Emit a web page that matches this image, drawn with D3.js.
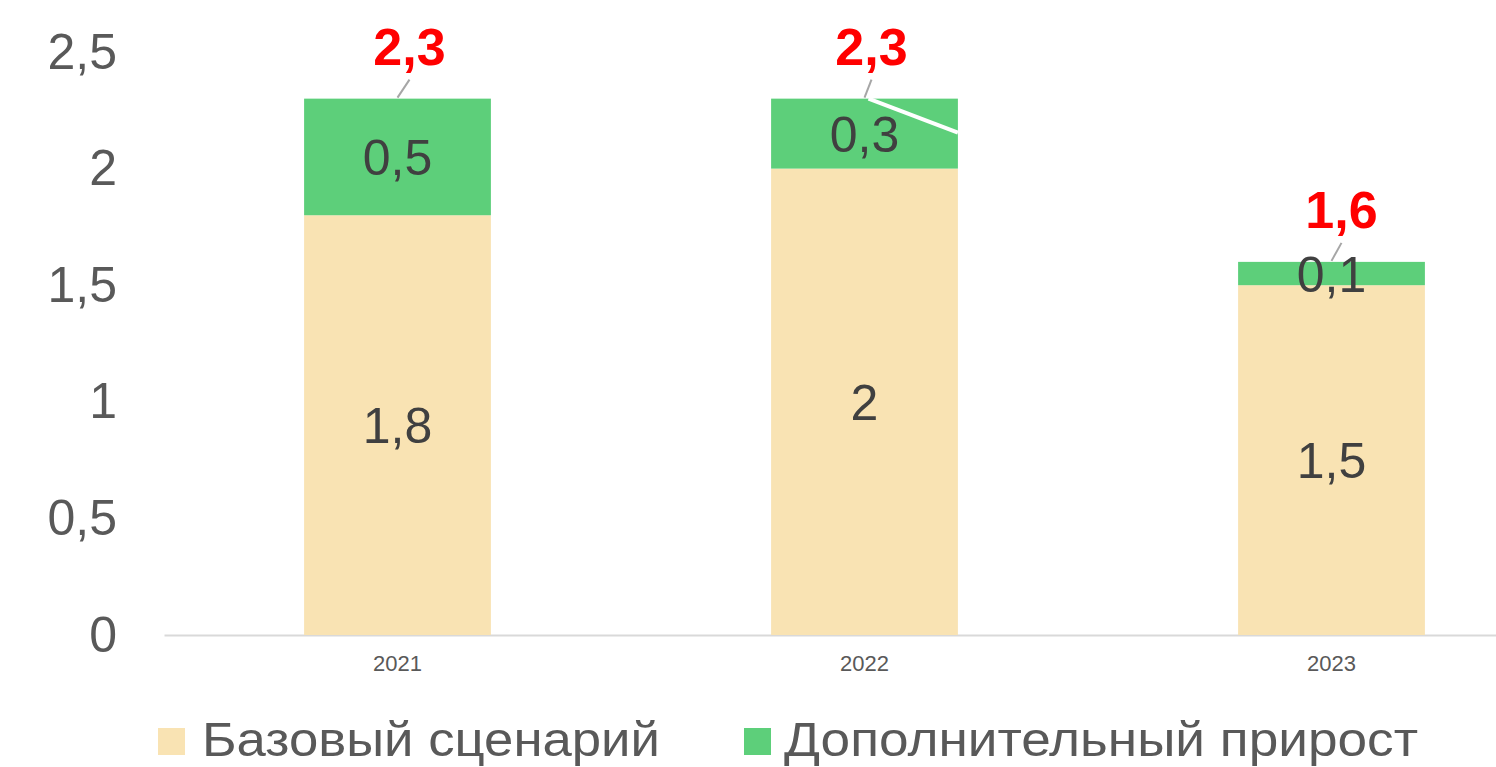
<!DOCTYPE html>
<html>
<head>
<meta charset="utf-8">
<script src="https://cdn.jsdelivr.net/npm/d3@7"></script>
<style>
  body { margin: 0; background: #fff; }
  svg { display: block; font-family: Arial, 'Liberation Sans', sans-serif; }
</style>
</head>
<body>
<div id="chart"></div>
<script>
const years = ['2021', '2022', '2023'];
const baseValues = [1.8, 2, 1.5];
const extraValues = [0.5, 0.3, 0.1];
const totalValues = [2.3, 2.3, 1.6];
const yTicks = [0, 0.5, 1, 1.5, 2, 2.5];
const seriesNames = ['Базовый сценарий', 'Дополнительный прирост'];

const width = 1496, height = 767;
const colors = { base: '#f9e3b3', extra: '#5dcf7a' };
const fmt = d => String(d).replace('.', ',');

const svg = d3.select('#chart')
  .append('svg')
  .attr('width', width)
  .attr('height', height);

// scales
const x = d3.scaleBand()
  .domain(years)
  .range([164, 1565])
  .paddingInner(0.6)
  .paddingOuter(0.3);

const y = d3.scaleLinear().domain([0, 2.5]).range([635, 52]);

// y axis, labels only
const yAxis = svg.append('g')
  .attr('transform', 'translate(117,0)')
  .call(d3.axisLeft(y).tickValues(yTicks).tickSize(0).tickPadding(0).tickFormat(fmt));
yAxis.select('.domain').remove();
yAxis.selectAll('text')
  .attr('font-size', 50)
  .attr('font-family', "Arial, 'Liberation Sans', sans-serif")
  .attr('fill', '#595959');

// x axis
const xAxis = svg.append('g')
  .attr('transform', 'translate(0,' + y(0) + ')')
  .call(d3.axisBottom(x).tickSize(0).tickPadding(20));
xAxis.select('.domain').attr('stroke', '#d9d9d9').attr('stroke-width', 2);
xAxis.selectAll('text')
  .attr('font-size', 22)
  .attr('font-family', "Arial, 'Liberation Sans', sans-serif")
  .attr('fill', '#595959');

const data = years.map((yr, i) => ({
  year: yr, base: baseValues[i], extra: extraValues[i], total: totalValues[i]
}));

const bars = svg.append('g');

// base segment
bars.selectAll('rect.base')
  .data(data)
  .enter()
  .append('rect')
  .attr('class', 'base')
  .attr('x', d => x(d.year))
  .attr('width', x.bandwidth())
  .attr('y', d => y(d.base))
  .attr('height', d => y(0) - y(d.base))
  .attr('fill', colors.base);

// extra segment
bars.selectAll('rect.extra')
  .data(data)
  .enter()
  .append('rect')
  .attr('class', 'extra')
  .attr('x', d => x(d.year))
  .attr('width', x.bandwidth())
  .attr('y', d => y(d.base + d.extra))
  .attr('height', d => y(d.base) - y(d.base + d.extra))
  .attr('fill', colors.extra);

// stray white leader line on 2022
bars.append('line')
  .attr('x1', x('2022') + x.bandwidth() / 2 + 4)
  .attr('y1', y(totalValues[1]))
  .attr('x2', x('2022') + x.bandwidth())
  .attr('y2', y(totalValues[1]) + 34)
  .attr('stroke', '#fff')
  .attr('stroke-width', 4);

// segment labels
const inner = svg.append('g')
  .attr('font-size', 50)
  .attr('fill', '#404040')
  .attr('text-anchor', 'middle');

inner.selectAll('text.base')
  .data(data)
  .enter()
  .append('text')
  .attr('x', d => x(d.year) + x.bandwidth() / 2)
  .attr('y', d => (y(0) + y(d.base)) / 2)
  .attr('dy', '0.36em')
  .text(d => fmt(d.base));

inner.selectAll('text.extra')
  .data(data)
  .enter()
  .append('text')
  .attr('x', d => x(d.year) + x.bandwidth() / 2)
  .attr('y', d => (y(d.base) + y(d.base + d.extra)) / 2)
  .attr('dy', '0.36em')
  .text(d => fmt(d.extra));

// total labels with leader lines
const offsets = [12, 7, 10];
const totals = svg.append('g');

totals.selectAll('line')
  .data(data)
  .enter()
  .append('line')
  .attr('x1', d => x(d.year) + x.bandwidth() / 2)
  .attr('y1', d => y(d.total) - 1)
  .attr('x2', (d, i) => x(d.year) + x.bandwidth() / 2 + offsets[i])
  .attr('y2', d => y(d.total) - 19)
  .attr('stroke', '#a6a6a6')
  .attr('stroke-width', 2);

totals.selectAll('text')
  .data(data)
  .enter()
  .append('text')
  .attr('x', (d, i) => x(d.year) + x.bandwidth() / 2 + offsets[i])
  .attr('y', d => y(d.total) - 34)
  .attr('text-anchor', 'middle')
  .attr('font-size', 52)
  .attr('font-weight', 'bold')
  .attr('fill', '#ff0000')
  .text(d => fmt(d.total));

// legend
const legendItems = [
  { name: seriesNames[0], color: colors.base, sx: 158, sw: 27, tx: 202, tl: 458 },
  { name: seriesNames[1], color: colors.extra, sx: 744, sw: 27, tx: 784, tl: 634 }
];
const legend = svg.append('g');
legendItems.forEach(item => {
  legend.append('rect')
    .attr('x', item.sx)
    .attr('y', 728)
    .attr('width', item.sw)
    .attr('height', 27)
    .attr('fill', item.color);
  legend.append('text')
    .attr('x', item.tx)
    .attr('y', 756)
    .attr('font-size', 48)
    .attr('fill', '#595959')
    .attr('textLength', item.tl)
    .attr('lengthAdjust', 'spacingAndGlyphs')
    .text(item.name);
});
</script>
</body>
</html>
